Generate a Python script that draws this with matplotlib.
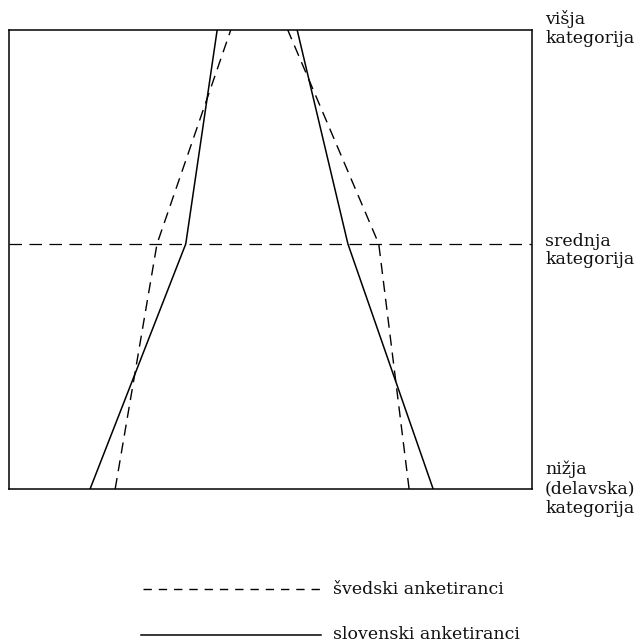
import matplotlib
matplotlib.use("Agg")
import matplotlib.pyplot as plt

# --- data (horizontal extent, % of box width, at each category level) ---
levels = ["nižja", "srednja", "višja"]
level_pos = [0.0, 0.534, 1.0]          # vertical position of the three categories

slo_left = [15.5, 33.8, 39.8]
slo_right = [81.1, 64.8, 55.1]
sve_left = [20.3, 28.3, 42.4]
sve_right = [76.5, 70.7, 53.3]

series_names = ["švedski anketiranci", "slovenski anketiranci"]
level_labels = [["višja", "kategorija"],
                ["srednja", "kategorija"],
                ["nižja", "(delavska)", "kategorija"]]

plt.rcParams['font.family'] = ['DejaVu Serif', 'DejaVu Sans']
W, H = 636, 644
fig = plt.figure(figsize=(W / 100, H / 100), dpi=100)

x0, x1, ytop, ybot = 9, 532, 30, 489
ax = fig.add_axes([x0 / W, 1 - ybot / H, (x1 - x0) / W, (ybot - ytop) / H])
ax.set_xlim(0, 100)
ax.set_ylim(0, 1)
ax.set_xticks([])
ax.set_yticks([])
for s in ax.spines.values():
    s.set_linewidth(1.1)
    s.set_color("black")

dash = (8, 5)
ax.plot(slo_left, level_pos, color="black", lw=1.1)
ax.plot(slo_right, level_pos, color="black", lw=1.1)
ax.plot(sve_left, level_pos, color="black", lw=1.0, dashes=dash)
ax.plot(sve_right, level_pos, color="black", lw=1.0, dashes=dash)
ax.axhline(level_pos[1], color="black", lw=0.9, dashes=(10, 6))

# overlay in pixel coordinates for labels and legend
ov = fig.add_axes([0, 0, 1, 1])
ov.set_xlim(0, W)
ov.set_ylim(H, 0)
ov.axis("off")

fs = 12.5
label_baselines = [[24, 43], [246, 264], [474, 493, 513]]
for lines, bls in zip(level_labels, label_baselines):
    for t, b in zip(lines, bls):
        ov.text(545, b, t, fontsize=fs, va="baseline", ha="left", color="#111")

# legend
ov.plot([143, 321], [589, 589], color="black", lw=1.0, dashes=(6, 5))
ov.plot([141, 321], [635, 635], color="black", lw=1.1)
ov.text(333, 594, series_names[0], fontsize=fs, va="baseline", ha="left", color="#111")
ov.text(333, 639, series_names[1], fontsize=fs, va="baseline", ha="left", color="#111")

fig.savefig("out.png", dpi=100)
